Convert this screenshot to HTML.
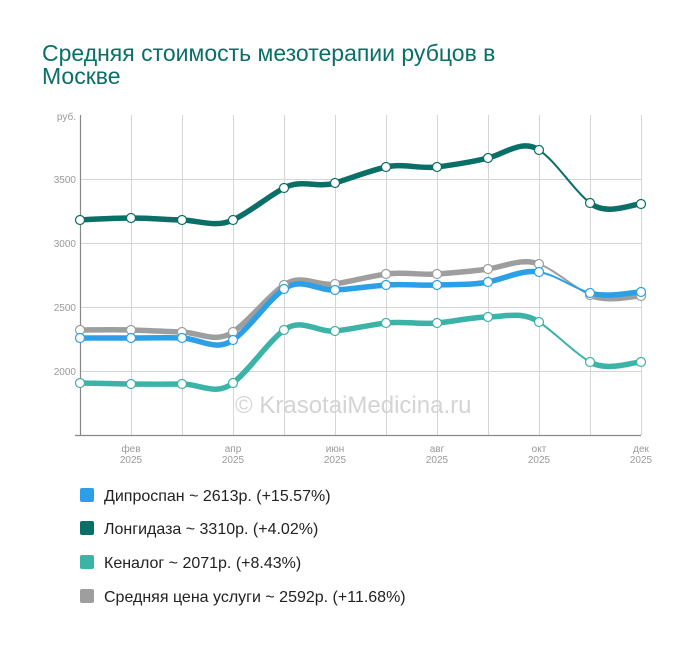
<!DOCTYPE html>
<html><head><meta charset="utf-8"><style>
body{margin:0;background:#fff;width:700px;height:646px;overflow:hidden;font-family:"Liberation Sans",sans-serif}
</style></head><body>
<svg id="s" width="700" height="646" xmlns="http://www.w3.org/2000/svg" font-family="Liberation Sans, sans-serif">
<text x="42" y="61" font-size="23" fill="#0a6f66">Средняя стоимость мезотерапии рубцов в</text>
<text x="42" y="84" font-size="23" fill="#0a6f66">Москве</text>
<g id="grid" stroke="#d6d6d6" stroke-width="1"></g>
<g stroke="#888" stroke-width="1.2">
<line x1="80.5" y1="115" x2="80.5" y2="435"/>
<line x1="75" y1="435.5" x2="641" y2="435.5"/>
</g>
<g font-size="10" fill="#999" text-anchor="end">
<text x="76" y="120">руб.</text>
<text x="76" y="183">3500</text>
<text x="76" y="247">3000</text>
<text x="76" y="311">2500</text>
<text x="76" y="375">2000</text>
</g>
<g font-size="10" fill="#999" text-anchor="middle">
<text x="131" y="452">фев</text><text x="131" y="463">2025</text>
<text x="233" y="452">апр</text><text x="233" y="463">2025</text>
<text x="335" y="452">июн</text><text x="335" y="463">2025</text>
<text x="437" y="452">авг</text><text x="437" y="463">2025</text>
<text x="539" y="452">окт</text><text x="539" y="463">2025</text>
<text x="641" y="452">дек</text><text x="641" y="463">2025</text>
</g>
<text x="235" y="413" font-size="24" fill="#d4d4d4">© KrasotaiMedicina.ru</text>
<g id="series"></g>
<g font-size="16" fill="#222">
<rect x="80" y="488" width="14" height="14" rx="2" fill="#2ba0e6"/><text x="104" y="501">Дипроспан ~ 2613р. (+15.57%)</text>
<rect x="80" y="521" width="14" height="14" rx="2" fill="#0a6f66"/><text x="104" y="534">Лонгидаза ~ 3310р. (+4.02%)</text>
<rect x="80" y="555" width="14" height="14" rx="2" fill="#3bb3a6"/><text x="104" y="568">Кеналог ~ 2071р. (+8.43%)</text>
<rect x="80" y="589" width="14" height="14" rx="2" fill="#9e9e9e"/><text x="104" y="602">Средняя цена услуги ~ 2592р. (+11.68%)</text>
</g>
</svg>
<script>
var NS="http://www.w3.org/2000/svg",s=document.getElementById("series"),g=document.getElementById("grid");
var X=[];for(var i=0;i<12;i++)X.push(80+i*51);
function el(t,a,p){var e=document.createElementNS(NS,t);for(var k in a)e.setAttribute(k,a[k]);p.appendChild(e);return e;}
for(var i=1;i<12;i++)el("line",{x1:X[i]+.5,y1:115,x2:X[i]+.5,y2:435},g);
[179,243,307,371].forEach(function(y){el("line",{x1:80,y1:y+.5,x2:641,y2:y+.5},g);});
var data=[
["#0a6f66",[220,218,220,220,188,183,167,167,158,150,203,204]],
["#9e9e9e",[330,330,332,332,285,284,274,274,269,264,295,296]],
["#2ba0e6",[338,338,338,340,289,290,285,285,282,272,293,292]],
["#3bb3a6",[383,384,384,383,330,331,323,323,317,322,362,362]]];
data.forEach(function(d){
 var Y=d[1];
 for(var i=0;i<11;i++){
  var p0=[X[Math.max(i-1,0)],Y[Math.max(i-1,0)]],p1=[X[i],Y[i]],p2=[X[i+1],Y[i+1]],p3=[X[Math.min(i+2,11)],Y[Math.min(i+2,11)]];
  var c1=[p1[0]+(p2[0]-p0[0])/6,p1[1]+(p2[1]-p0[1])/4];
  var c2=[p2[0]-(p3[0]-p1[0])/6,p2[1]-(p3[1]-p1[1])/4];
  el("path",{d:"M"+p1+"C"+c1+" "+c2+" "+p2,fill:"none",stroke:d[0],"stroke-width":i==9?2:5.5,"stroke-linecap":"round"},s);
 }
});
data.forEach(function(d){for(var i=0;i<12;i++)el("circle",{cx:X[i],cy:d[1][i],r:4.5,fill:"#fff",stroke:d[0],"stroke-width":1.2},s);});
</script>
</body></html>
